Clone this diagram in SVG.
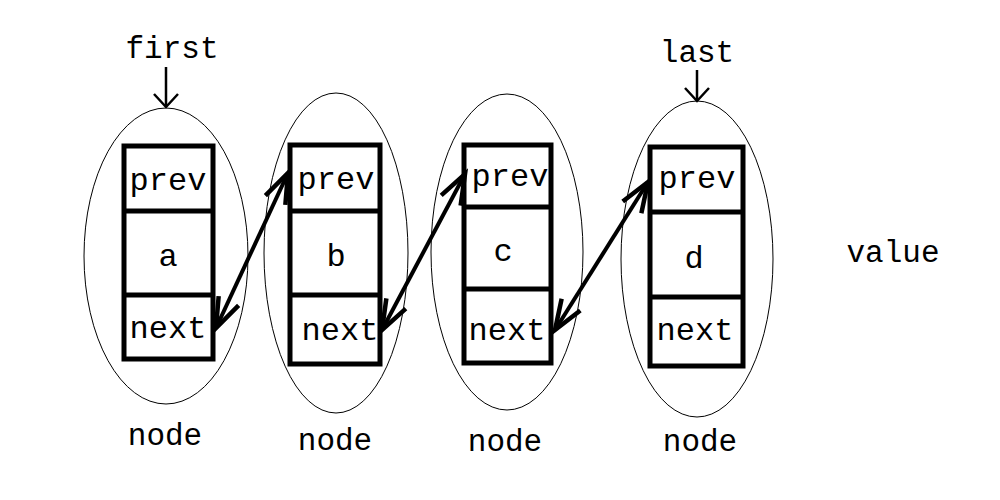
<svg xmlns="http://www.w3.org/2000/svg" width="1000" height="500" viewBox="0 0 1000 500">
<style>
.bg{fill:#fff}
.ell{fill:none;stroke:#000;stroke-width:1}
.box{fill:none;stroke:#000;stroke-width:5}
.t{font-family:"Liberation Mono","Courier New",monospace;font-size:32px;fill:#000;text-anchor:middle}
.l{font-family:"Liberation Mono","Courier New",monospace;font-size:31px;fill:#000;text-anchor:middle}
.dbl{stroke:#000;stroke-width:4;fill:none;marker-start:url(#ah);marker-end:url(#ah)}
.ptr{stroke:#000;stroke-width:2.5;fill:none;marker-end:url(#ph)}
</style>
<defs>
<marker id="ah" markerUnits="userSpaceOnUse" orient="auto-start-reverse" refX="0" refY="0" markerWidth="80" markerHeight="80" viewBox="-40 -40 80 80" overflow="visible">
<path d="M-30,-11 L0,0 L-30,11" fill="none" stroke="#000" stroke-width="4.5"/>
</marker>
<marker id="ph" markerUnits="userSpaceOnUse" orient="auto" refX="0" refY="0" markerWidth="40" markerHeight="40" viewBox="-20 -20 40 40" overflow="visible">
<path d="M-13,-12 L0,0 L-13,12" fill="none" stroke="#000" stroke-width="2.5"/>
</marker>
</defs>
<rect class="bg" x="0" y="0" width="1000" height="500"/>
<g id="node1">
<ellipse class="ell" cx="166" cy="256" rx="82" ry="148"/>
<rect class="box" x="124" y="146" width="89" height="213"/>
<line class="box" x1="124" y1="211" x2="213" y2="211"/>
<line class="box" x1="124" y1="295" x2="213" y2="295"/>
<text class="t" x="168" y="190">prev</text>
<text class="t" x="168" y="266">a</text>
<text class="t" x="168" y="338">next</text>
<text class="l" x="165" y="445">node</text>
</g>
<g id="node2">
<ellipse class="ell" cx="336" cy="253" rx="72" ry="160"/>
<rect class="box" x="290" y="145" width="90" height="219"/>
<line class="box" x1="290" y1="211" x2="380" y2="211"/>
<line class="box" x1="290" y1="295" x2="380" y2="295"/>
<text class="t" x="336" y="189">prev</text>
<text class="t" x="336" y="266">b</text>
<text class="t" x="340" y="340">next</text>
<text class="l" x="335" y="450">node</text>
</g>
<g id="node3">
<ellipse class="ell" cx="507" cy="252" rx="76" ry="158"/>
<rect class="box" x="464" y="145" width="87" height="218"/>
<line class="box" x1="464" y1="207" x2="551" y2="207"/>
<line class="box" x1="464" y1="289" x2="551" y2="289"/>
<text class="t" x="510" y="186">prev</text>
<text class="t" x="503" y="261">c</text>
<text class="t" x="507" y="340">next</text>
<text class="l" x="505" y="451">node</text>
</g>
<g id="node4">
<ellipse class="ell" cx="697" cy="259" rx="76" ry="158"/>
<rect class="box" x="650" y="147" width="93" height="219"/>
<line class="box" x1="650" y1="212" x2="743" y2="212"/>
<line class="box" x1="650" y1="297" x2="743" y2="297"/>
<text class="t" x="697" y="188">prev</text>
<text class="t" x="694" y="268">d</text>
<text class="t" x="695" y="340">next</text>
<text class="l" x="700" y="451">node</text>
</g>
<g id="labels">
<text class="l" x="172" y="58">first</text>
<text class="l" x="697" y="62">last</text>
<text class="l" x="893" y="262">value</text>
</g>
<g id="connectors">
<line class="ptr" x1="166" y1="67" x2="166" y2="107"/>
<line class="ptr" x1="697" y1="70" x2="697" y2="101"/>
<line class="dbl" x1="216" y1="328" x2="288" y2="173"/>
<line class="dbl" x1="382" y1="330" x2="465" y2="174"/>
<line class="dbl" x1="555" y1="330" x2="648" y2="182"/>
</g>
</svg>
